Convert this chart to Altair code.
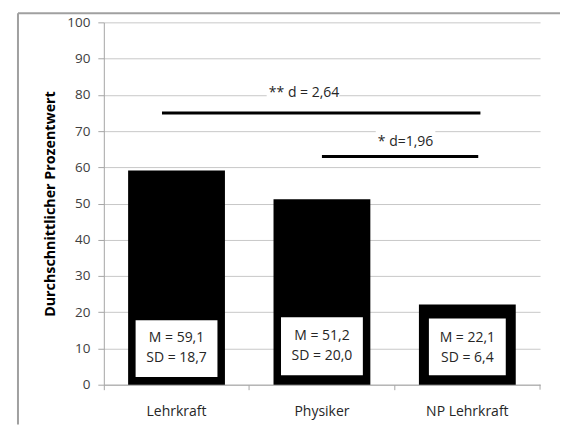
import altair as alt
import pandas as pd

# --- data ---
categories = ["Lehrkraft", "Physiker", "NP Lehrkraft"]
means = [59.1, 51.2, 22.1]
m_labels = ["M = 59,1", "M = 51,2", "M = 22,1"]
sd_labels = ["SD = 18,7", "SD = 20,0", "SD = 6,4"]
box_lo = [2.1, 2.6, 2.6]
box_hi = [17.8, 18.6, 18.3]
box_w = [82, 82, 77]
m_text_y = [13.0, 13.5, 13.0]
sd_text_y = [7.4, 8.0, 7.4]

# significance annotations (x in category units 0..3)
sig_labels = ["** d = 2,64", "* d=1,96"]
sig_y = [75, 63]
sig_x1 = [0.40, 1.50]
sig_x2 = [2.59, 2.575]
sig_text_x = [1.377, 2.075]
sig_text_y = [80.6, 67.0]
sig_bg_x1 = [1.12, 1.87]
sig_bg_x2 = [1.62, 2.28]
sig_bg_y1 = [79.0, 64.5]
sig_bg_y2 = [82.6, 70.6]

FONT = "Open Sans"
W, H = 437, 363
TITLE = "Durchschnittlicher Prozentwert"

bars_df = pd.DataFrame({
    "cat": categories, "mean": means, "m": m_labels, "sd": sd_labels,
    "lo": box_lo, "hi": box_hi, "w": box_w, "my": m_text_y, "sy": sd_text_y,
})
sig_df = pd.DataFrame({
    "label": sig_labels, "y": sig_y, "x1": sig_x1, "x2": sig_x2,
    "tx": sig_text_x, "ty": sig_text_y,
    "bx1": sig_bg_x1, "bx2": sig_bg_x2, "by1": sig_bg_y1, "by2": sig_bg_y2,
})

yscale = alt.Scale(domain=[0, 100], nice=False)
xscale = alt.Scale(paddingInner=0, paddingOuter=0)
xaxis = alt.Axis(labelAngle=0, tickSize=5, bandPosition=0, labelPadding=15,
                 labelFont=FONT, labelFontSize=14, labelColor="#262626",
                 domainColor="#a6a6a6", tickColor="#a6a6a6")
yaxis = alt.Axis(values=list(range(0, 101, 10)), tickSize=6, labelPadding=8,
                 labelFont=FONT, labelFontSize=13.5, labelColor="#404040",
                 gridColor="#c8c8c8", domainColor="#a6a6a6", tickColor="#a6a6a6",
                 titleFont=FONT, titleFontSize=14.3, titleFontWeight="bold",
                 titleColor="#000000", titlePadding=9)


def yy(field):
    return alt.Y(field, scale=yscale, axis=yaxis, title=TITLE)


def xc():
    return alt.X("cat:N", sort=categories, title=None, scale=xscale, axis=xaxis)


base = alt.Chart(bars_df)
bars = base.mark_bar(color="black", size=97).encode(x=xc(), y=yy("mean:Q"))
boxes = base.mark_bar(color="white").encode(
    x=xc(), y=yy("lo:Q"), y2="hi:Q",
    size=alt.Size("w:Q", scale=None, legend=None))
mtext = base.mark_text(align="center", baseline="middle", font=FONT,
                       fontSize=14, color="#262626").encode(
    x=xc(), y=yy("my:Q"), text="m:N")
sdtext = base.mark_text(align="center", baseline="middle", font=FONT,
                        fontSize=14, color="#262626").encode(
    x=xc(), y=yy("sy:Q"), text="sd:N")

cat_layer = alt.layer(bars, boxes, mtext, sdtext)

xq = alt.Scale(domain=[0, 3], nice=False, zero=False)
sbase = alt.Chart(sig_df)
sig_bg = sbase.mark_rect(color="white").encode(
    x=alt.X("bx1:Q", scale=xq, axis=None), x2="bx2:Q",
    y=yy("by1:Q"), y2="by2:Q")
sig_lines = sbase.mark_rule(color="black", strokeWidth=3).encode(
    x=alt.X("x1:Q", scale=xq, axis=None), x2="x2:Q", y=yy("y:Q"))
sig_text = sbase.mark_text(font=FONT, fontSize=14, color="#262626", baseline="middle").encode(
    x=alt.X("tx:Q", scale=xq, axis=None), y=yy("ty:Q"), text="label:N")

one = alt.Chart(pd.DataFrame({"a": [0]}))
end_tick = one.mark_rule(color="#a6a6a6").encode(
    x=alt.value(W), y=alt.value(H), y2=alt.value(H + 5))
frame_top = one.mark_rule(color="#a0a0a0", strokeWidth=2).encode(
    x=alt.value(-86), x2=alt.value(W + 22), y=alt.value(-9))
frame_left = one.mark_rule(color="#a0a0a0", strokeWidth=2).encode(
    x=alt.value(-86), y=alt.value(-9), y2=alt.value(H + 40))

sig_layer = alt.layer(sig_bg, sig_lines, sig_text, end_tick, frame_top, frame_left)

chart = alt.layer(cat_layer, sig_layer).resolve_scale(x="independent").properties(
    width=W, height=H,
    autosize=alt.AutoSizeParams(type="none"),
    padding={"left": 96, "top": 14, "right": 20, "bottom": 40},
    background="white",
).configure_view(stroke=None)

chart.save("out.html", embed_options={"renderer": "svg", "actions": False})
